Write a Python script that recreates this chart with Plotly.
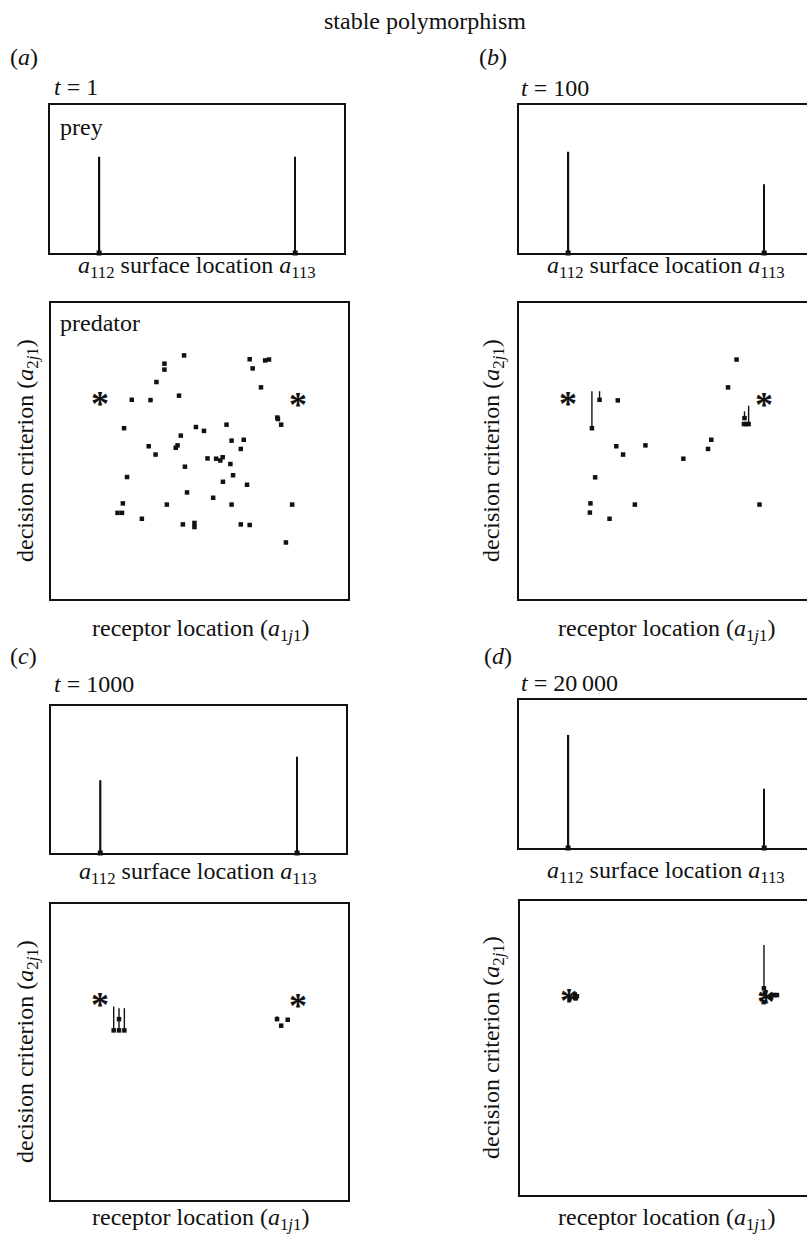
import plotly.graph_objects as go

W, H = 807, 1237
FONT = "Liberation Serif"
FS = 24

# ---------------- data ----------------
# prey: surface locations (a112, a113) in % of axis, relative frequency
prey_x = [16.7, 83.4]
prey_a = [0.65, 0.65]
prey_b = [0.684, 0.464]
prey_c = [0.495, 0.654]
prey_d = [0.764, 0.40]
prey_width = [0.75, 0.5]

# optimal predator strategies (asterisks)
star_x = [16.5, 83.3]
star_y = [67.2, 67.0]

# predator (a): t = 1
pa_x = [44.8, 38.2, 38.2, 66.9, 72.1, 73.4, 67.9, 35.5, 70.7, 27.2, 33.5, 43.1,
        76.2, 76.4, 77.5, 24.6, 48.8, 51.5, 59.1, 43.7, 60.8, 64.9, 32.9, 42.0,
        42.6, 63.9, 35.2, 52.7, 55.6, 57.0, 57.8, 60.4, 45.1, 25.6, 61.3, 57.9,
        66.0, 45.8, 54.6, 24.2, 39.0, 60.8, 81.2, 22.4, 23.9, 30.6, 44.4, 48.3,
        48.3, 63.9, 66.9, 79.1]
pa_y = [82.3, 79.5, 77.5, 81.0, 80.6, 80.9, 77.9, 73.3, 71.5, 67.3, 67.2, 68.7,
        61.3, 60.8, 58.9, 57.7, 58.1, 56.8, 58.9, 55.2, 53.5, 53.8, 51.6, 51.1,
        51.9, 50.7, 48.8, 47.5, 47.4, 46.8, 47.9, 45.6, 44.7, 41.2, 41.8, 39.6,
        38.6, 36.0, 34.2, 32.3, 31.9, 31.9, 31.9, 29.1, 29.1, 27.1, 25.2, 25.7,
        24.3, 25.2, 25.0, 19.1]

# predator (b): t = 100
pb_x = [33.6, 33.1, 35.4, 43.0, 25.9, 24.3, 24.1, 30.8, 39.4, 55.9, 64.3, 65.4,
        71.1, 74.0, 81.8, 76.5, 77.3]
pb_y = [67.1, 51.6, 48.8, 51.9, 41.1, 32.3, 29.2, 27.1, 31.9, 47.4, 50.7, 53.8,
        71.5, 80.9, 31.9, 59.1, 59.1]
pb_tx = [24.8, 27.4, 76.7, 78.1]
pb_ty = [57.7, 67.3, 61.1, 59.1]
pb_tl = [12.5, 2.9, 2.3, 6.2]

# predator (c): t = 1000
pc_x = [77.5, 79.7, 22.9]
pc_y = [58.9, 60.9, 61.1]
pc_tx = [21.1, 22.9, 24.7, 76.1]
pc_ty = [57.3, 57.3, 57.3, 61.1]
pc_tl = [8.1, 7.5, 7.5, 1.0]

# predator (d): t = 20000
pd_x = [18.6, 19.3, 18.9, 16.8, 82.6, 83.0, 85.0, 85.5, 86.3, 87.1]
pd_y = [68.2, 67.6, 66.9, 66.8, 65.6, 68.6, 67.5, 68.0, 68.0, 68.0]
pd_tx = [82.7]
pd_ty = [70.3]
pd_tl = [14.7]

# ---------------- layout helpers ----------------
def fx(p):
    return p / W


def fy(p):
    return 1 - p / H


LINE = dict(showline=True, linecolor="#111", linewidth=1.5, showgrid=False,
            zeroline=False, showticklabels=False, ticks="", fixedrange=True)

fig = go.Figure()
layout = dict(width=W, height=H, margin=dict(l=0, r=0, t=0, b=0),
              paper_bgcolor="white", plot_bgcolor="white", showlegend=False,
              font=dict(family=FONT, size=FS, color="#111"))
annotations = []

# panels: (name, x0, x1, y0, y1, right_clipped)
panels = {
    "pa": (50, 344, 105, 253, False),
    "Pa": (51, 348, 303, 599, False),
    "pb": (519, 813, 105, 253, True),
    "Pb": (519, 813, 303, 599, True),
    "pc": (51, 346, 706, 853, False),
    "Pc": (51, 348, 904, 1200, False),
    "pd": (519, 813, 700, 848, True),
    "Pd": (520, 815, 901, 1195, True),
}
axid = {}
for i, (name, (x0, x1, y0, y1, clip)) in enumerate(panels.items(), start=1):
    xa = "xaxis" if i == 1 else f"xaxis{i}"
    ya = "yaxis" if i == 1 else f"yaxis{i}"
    xr = "x" if i == 1 else f"x{i}"
    yr = "y" if i == 1 else f"y{i}"
    axid[name] = (xr, yr)
    right = min(x1, W)
    xmax = 100 * (right - x0) / (x1 - x0)
    ymax = 1.0 if name.startswith("p") else 100.0
    layout[xa] = dict(LINE, domain=[fx(x0), fx(right)], range=[0, xmax],
                      mirror=True, anchor=yr)
    layout[ya] = dict(LINE, domain=[fy(y1), fy(y0)], range=[0, ymax],
                      mirror=not clip, anchor=xr)

# ---------------- prey bars ----------------
for name, h in [("pa", prey_a), ("pb", prey_b), ("pc", prey_c), ("pd", prey_d)]:
    xr, yr = axid[name]
    fig.add_trace(go.Bar(x=prey_x, y=h, width=prey_width, marker_color="#111",
                         marker_line_width=0, xaxis=xr, yaxis=yr))
    fig.add_trace(go.Scatter(x=prey_x, y=[0, 0], mode="markers", cliponaxis=False,
                             marker=dict(symbol="square", size=5, color="#111"),
                             xaxis=xr, yaxis=yr))

# ---------------- predator points ----------------
def add_points(name, xs, ys):
    xr, yr = axid[name]
    fig.add_trace(go.Scatter(x=xs, y=ys, mode="markers",
                             marker=dict(symbol="square", size=4.5, color="#111",
                                         line_width=0),
                             xaxis=xr, yaxis=yr))


def add_trails(name, xs, ys, ls):
    xr, yr = axid[name]
    fig.add_trace(go.Scatter(x=xs, y=ys, mode="markers",
                             marker=dict(symbol="square", size=4.5, color="#111",
                                         line_width=0),
                             error_y=dict(type="data", symmetric=False, array=ls,
                                          arrayminus=[0] * len(ls), width=0,
                                          thickness=1.4, color="#111"),
                             xaxis=xr, yaxis=yr))


add_points("Pa", pa_x, pa_y)
add_points("Pb", pb_x, pb_y)
add_trails("Pb", pb_tx, pb_ty, pb_tl)
add_points("Pc", pc_x, pc_y)
add_trails("Pc", pc_tx, pc_ty, pc_tl)
add_points("Pd", pd_x, pd_y)
add_trails("Pd", pd_tx, pd_ty, pd_tl)

# asterisks marking the optimal predator strategies
for name in ["Pa", "Pb", "Pc", "Pd"]:
    xr, yr = axid[name]
    for sx, sy in zip(star_x, star_y):
        annotations.append(dict(x=sx, y=sy, xref=xr, yref=yr, text="<b>*</b>",
                                showarrow=False, yshift=-4,
                                font=dict(family=FONT, size=36, color="#111")))

# ---------------- text ----------------
def txt(x, y, s, xanchor="center", angle=0, size=FS):
    annotations.append(dict(x=fx(x), y=fy(y), xref="paper", yref="paper", text=s,
                            showarrow=False, xanchor=xanchor, yanchor="middle",
                            textangle=angle,
                            font=dict(family=FONT, size=size, color="#111")))


txt(425, 21, "stable polymorphism")
for x, y, s in [(8, 57, "(<i>a</i>)"), (477, 57, "(<i>b</i>)"),
                (8, 656, "(<i>c</i>)"), (482, 656, "(<i>d</i>)")]:
    txt(x, y, s, xanchor="left")
for x, y, s in [(52, 87, "<i>t</i> = 1"), (519, 88, "<i>t</i> = 100"),
                (52, 684, "<i>t</i> = 1000"), (519, 683, "<i>t</i> = 20\u2009000")]:
    txt(x, y, s, xanchor="left")
txt(58, 127, "prey", xanchor="left")
txt(58, 323, "predator", xanchor="left")

prey_lab = "<i>a</i><sub>112</sub> surface location <i>a</i><sub>113</sub>"
pred_xlab = "receptor location (<i>a</i><sub>1<i>j</i>1</sub>)"
pred_ylab = "decision criterion (<i>a</i><sub>2<i>j</i>1</sub>)"
for cx, y in [(197, 267), (666, 267), (198, 873), (666, 872)]:
    txt(cx, y, prey_lab)
for cx, y in [(200, 630), (666, 630), (200, 1219), (666, 1219)]:
    txt(cx, y, pred_xlab)
for cx, y in [(27, 451), (493, 451), (27, 1052), (493, 1048)]:
    txt(cx, y, pred_ylab, angle=-90)

layout["annotations"] = annotations
fig.update_layout(**layout)
fig.write_html("out.html")
